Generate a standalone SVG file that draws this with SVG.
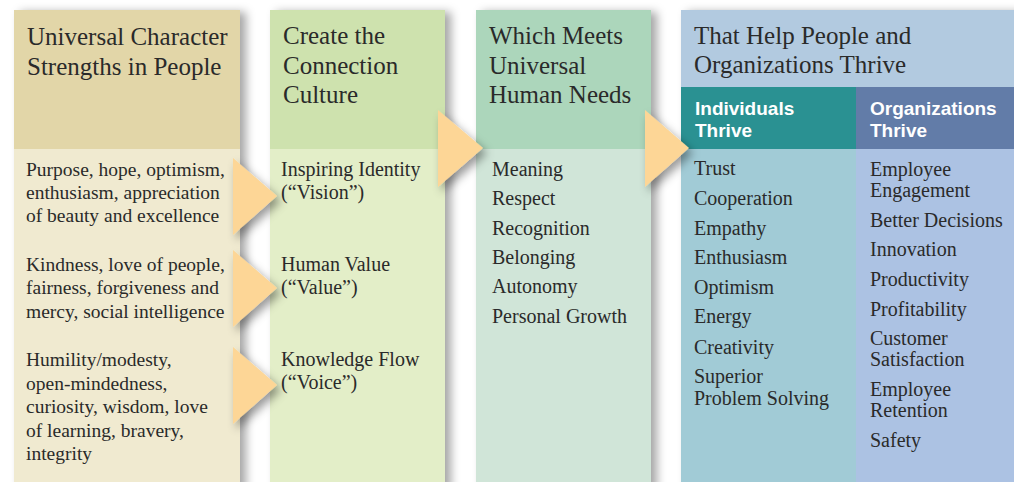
<svg xmlns="http://www.w3.org/2000/svg" width="1014" height="482" viewBox="0 0 1014 482">
<defs>
<filter id="sh" x="-20%" y="-10%" width="140%" height="120%">
<feDropShadow dx="6" dy="2" stdDeviation="5" flood-color="#000" flood-opacity="0.35"/>
</filter>
<filter id="ash" x="-50%" y="-50%" width="200%" height="200%">
<feDropShadow dx="4" dy="5" stdDeviation="5" flood-color="#000" flood-opacity="0.4"/>
</filter>
<style>
.h{font-family:"Liberation Serif","Times New Roman",serif;font-size:25px;fill:#2a2a2a}
.b{font-family:"Liberation Serif","Times New Roman",serif;font-size:20px;fill:#2a2a2a}
.b1{font-family:"Liberation Serif","Times New Roman",serif;font-size:19.5px;fill:#2a2a2a}
.s{font-family:"Liberation Sans",Arial,sans-serif;font-size:19px;font-weight:bold;fill:#fff}
.arr{fill:#fdd696}
</style>
</defs>
<rect width="1014" height="482" fill="#fff"/>

<g id="col1">
<g filter="url(#sh)">
<rect x="14" y="10" width="226" height="139" fill="#e2d6a8"/>
<rect x="14" y="149" width="226" height="340" fill="#f0ead0"/>
</g>
<text class="h" x="27" y="45">Universal Character</text>
<text class="h" x="27" y="75">Strengths in People</text>
<text class="b1" x="26" y="176">Purpose, hope, optimism,</text>
<text class="b1" x="26" y="199">enthusiasm, appreciation</text>
<text class="b1" x="26" y="222">of beauty and excellence</text>
<text class="b1" x="26" y="270.5">Kindness, love of people,</text>
<text class="b1" x="26" y="294">fairness, forgiveness and</text>
<text class="b1" x="26" y="317.5">mercy, social intelligence</text>
<text class="b1" x="26" y="366">Humility/modesty,</text>
<text class="b1" x="26" y="389.5">open-mindedness,</text>
<text class="b1" x="26" y="413">curiosity, wisdom, love</text>
<text class="b1" x="26" y="436.5">of learning, bravery,</text>
<text class="b1" x="26" y="460">integrity</text>
</g>

<g id="col2">
<g filter="url(#sh)">
<rect x="270" y="10" width="175" height="139" fill="#cee2ae"/>
<rect x="270" y="149" width="175" height="340" fill="#e3eec8"/>
</g>
<text class="h" x="283" y="44">Create the</text>
<text class="h" x="283" y="74">Connection</text>
<text class="h" x="283" y="103">Culture</text>
<text class="b" x="281" y="176">Inspiring Identity</text>
<text class="b" x="281" y="199">(“Vision”)</text>
<text class="b" x="281" y="271">Human Value</text>
<text class="b" x="281" y="294">(“Value”)</text>
<text class="b" x="281" y="366">Knowledge Flow</text>
<text class="b" x="281" y="389">(“Voice”)</text>
</g>

<g id="col3">
<g filter="url(#sh)">
<rect x="476" y="10" width="175" height="139" fill="#acd6bb"/>
<rect x="476" y="149" width="175" height="340" fill="#d0e5d8"/>
</g>
<text class="h" x="489" y="44">Which Meets</text>
<text class="h" x="489" y="74">Universal</text>
<text class="h" x="489" y="103">Human Needs</text>
<text class="b" x="492" y="176">Meaning</text>
<text class="b" x="492" y="205">Respect</text>
<text class="b" x="492" y="235">Recognition</text>
<text class="b" x="492" y="264">Belonging</text>
<text class="b" x="492" y="293">Autonomy</text>
<text class="b" x="492" y="323">Personal Growth</text>
</g>

<g id="col4">
<g filter="url(#sh)">
<rect x="681" y="10" width="340" height="77" fill="#b2cae0"/>
<rect x="681" y="87" width="175" height="62" fill="#2a9192"/>
<rect x="856" y="87" width="165" height="62" fill="#627ba8"/>
<rect x="681" y="149" width="175" height="340" fill="#a1cbd6"/>
<rect x="856" y="149" width="165" height="340" fill="#acc2e3"/>
</g>
<text class="h" x="694" y="44">That Help People and</text>
<text class="h" x="694" y="73">Organizations Thrive</text>
</g>

<g id="individuals">
<text class="s" x="695" y="115">Individuals</text>
<text class="s" x="695" y="137">Thrive</text>
<text class="b" x="694" y="175">Trust</text>
<text class="b" x="694" y="205">Cooperation</text>
<text class="b" x="694" y="235">Empathy</text>
<text class="b" x="694" y="264">Enthusiasm</text>
<text class="b" x="694" y="294">Optimism</text>
<text class="b" x="694" y="323">Energy</text>
<text class="b" x="694" y="354">Creativity</text>
<text class="b" x="694" y="383">Superior</text>
<text class="b" x="694" y="405">Problem Solving</text>
</g>

<g id="organizations">
<text class="s" x="870" y="115">Organizations</text>
<text class="s" x="870" y="137">Thrive</text>
<text class="b" x="870" y="176">Employee</text>
<text class="b" x="870" y="197">Engagement</text>
<text class="b" x="870" y="227">Better Decisions</text>
<text class="b" x="870" y="256">Innovation</text>
<text class="b" x="870" y="286">Productivity</text>
<text class="b" x="870" y="316">Profitability</text>
<text class="b" x="870" y="345">Customer</text>
<text class="b" x="870" y="366">Satisfaction</text>
<text class="b" x="870" y="396">Employee</text>
<text class="b" x="870" y="417">Retention</text>
<text class="b" x="870" y="447">Safety</text>
</g>

<g id="connectors" filter="url(#ash)">
<polygon class="arr" points="233,158 277,196 233,235"/>
<polygon class="arr" points="233,250 277,288 233,327"/>
<polygon class="arr" points="233,347 277,385 233,424"/>
<polygon class="arr" points="438,110 483,148 438,187"/>
<polygon class="arr" points="645,110 689,148 645,187"/>
</g>
</svg>
